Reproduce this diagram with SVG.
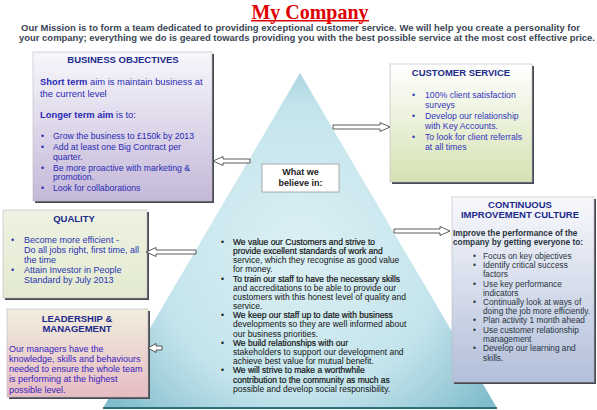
<svg xmlns="http://www.w3.org/2000/svg" width="597" height="410" viewBox="0 0 597 410">
<defs>
<radialGradient id="gPyr" gradientUnits="userSpaceOnUse" cx="300" cy="250" r="240">
<stop offset="0" stop-color="#dcf0f4"/><stop offset="0.6" stop-color="#c4e4ec"/><stop offset="1" stop-color="#82bdcc"/>
</radialGradient>
<linearGradient id="gBus" x1="0" y1="0" x2="0" y2="1"><stop offset="0" stop-color="#f8f7fc"/><stop offset="1" stop-color="#c4b8d8"/></linearGradient>
<linearGradient id="gCus" x1="0" y1="0" x2="0" y2="1"><stop offset="0" stop-color="#ffffff"/><stop offset="1" stop-color="#d5e2b3"/></linearGradient>
<linearGradient id="gQua" x1="0" y1="0" x2="0" y2="1"><stop offset="0" stop-color="#eef2e2"/><stop offset="1" stop-color="#e3ead0"/></linearGradient>
<linearGradient id="gLea" x1="0" y1="0" x2="0" y2="1"><stop offset="0" stop-color="#f1eedd"/><stop offset="1" stop-color="#e6bcc2"/></linearGradient>
<linearGradient id="gImp" x1="0" y1="0" x2="0" y2="1"><stop offset="0" stop-color="#f8f9fc"/><stop offset="1" stop-color="#b2bfda"/></linearGradient>
</defs>
<style>
text{font-family:"Liberation Sans",Arial,sans-serif;}
.title{font-family:"Liberation Serif","Times New Roman",serif;font-size:20px;font-weight:bold;fill:#e00000;}
.mis{font-size:9px;font-weight:bold;fill:#3a4654;}
.hd{font-size:9.5px;font-weight:bold;fill:#1c2a8c;text-anchor:middle;}
.bus{font-size:9.4px;fill:#2a2ab4;}
.bul{font-size:8.7px;fill:#2a2ab4;}
.cus{font-size:8.7px;fill:#3535bd;}
.qua{font-size:9px;fill:#2a35b0;}
.lea{font-size:9px;fill:#3a22c0;}
.imp{font-size:8.3px;fill:#2a3440;}
.pyr{font-size:8.5px;fill:#151515;}
.em{stroke:#151515;stroke-width:0.2;}
.b{font-weight:bold;}
.shadow{fill:#4a4a55;}
.box{stroke:#b8b8c0;stroke-width:0.6;}
.arrow{fill:#ffffff;stroke:#333333;stroke-width:0.8;}
</style>

<g id="title">
<text class="title" x="310" y="18.5" text-anchor="middle">My Company</text>
<line x1="251" y1="20.8" x2="369" y2="20.8" stroke="#e00000" stroke-width="1.5"/>
</g>

<g id="mission">
<text class="mis" x="21" y="30.5" textLength="559" lengthAdjust="spacingAndGlyphs">Our Mission is to form a team dedicated to providing exceptional customer service. We will help you create a personality for</text>
<text class="mis" x="19" y="40.5" textLength="576" lengthAdjust="spacingAndGlyphs">your company; everything we do is geared towards providing you with the best possible service at the most cost effective price.</text>
</g>

<g id="pyramid">
<polygon points="300,73 103,408 497,408" fill="url(#gPyr)"/>
<line x1="103" y1="408" x2="497" y2="408" stroke="#2f6f7e" stroke-width="2"/>
<g class="pyr">
<text x="221" y="245">•</text><text x="221" y="282">•</text><text x="221" y="318">•</text><text x="221" y="346">•</text><text x="221" y="373">•</text>
<text x="233" y="245" class="em">We value our Customers and strive to</text>
<text x="233" y="254" class="em">provide excellent standards of work and</text>
<text x="233" y="263">service, which they recognise as good value</text>
<text x="233" y="272">for money.</text>
<text x="233" y="282" class="em">To train our staff to have the necessary skills</text>
<text x="233" y="291">and accreditations to be able to provide our</text>
<text x="233" y="300">customers with this honest level of quality and</text>
<text x="233" y="309">service.</text>
<text x="233" y="318" class="em">We keep our staff up to date with business</text>
<text x="233" y="327">developments so they are well informed about</text>
<text x="233" y="337">our business priorities.</text>
<text x="233" y="346" class="em">We build relationships with our</text>
<text x="233" y="355">stakeholders to support our development and</text>
<text x="233" y="364">achieve best value for mutual benefit.</text>
<text x="233" y="373" class="em">We will strive to make a worthwhile</text>
<text x="233" y="383" class="em">contribution to the community as much as</text>
<text x="233" y="392">possible and develop social responsibility.</text>
</g>
</g>

<g id="believe">
<rect x="262" y="164" width="77" height="28" fill="#ffffff" stroke="#999999" stroke-width="0.8"/>
<text x="300.5" y="175" text-anchor="middle" font-size="9" font-weight="bold" fill="#222">What we</text>
<text x="300.5" y="186" text-anchor="middle" font-size="9" font-weight="bold" fill="#222">believe in:</text>
</g>

<g id="business">
<rect class="shadow" x="35" y="54" width="179" height="149"/>
<rect class="box" x="33" y="52" width="179" height="149" fill="url(#gBus)"/>
<text class="hd" x="123" y="63">BUSINESS OBJECTIVES</text>
<text class="bus" x="40" y="85"><tspan class="b">Short term</tspan> aim is maintain business at</text>
<text class="bus" x="40" y="97">the current level</text>
<text class="bus" x="40" y="118"><tspan class="b">Longer term aim</tspan> is to:</text>
<g class="bul">
<text x="41" y="139">•</text><text x="41" y="150">•</text><text x="41" y="171">•</text><text x="41" y="191">•</text>
<text x="53" y="139">Grow the business to £150k by 2013</text>
<text x="53" y="150">Add at least one Big Contract per</text>
<text x="53" y="160">quarter.</text>
<text x="53" y="171">Be more proactive with marketing &amp;</text>
<text x="53" y="180">promotion.</text>
<text x="53" y="191">Look for collaborations</text>
</g>
</g>

<g id="customer">
<rect class="shadow" x="392" y="66" width="142" height="118"/>
<rect class="box" x="390" y="64" width="142" height="118" fill="url(#gCus)"/>
<text class="hd" x="461" y="76">CUSTOMER SERVICE</text>
<g class="cus">
<text x="412" y="98">•</text><text x="412" y="119">•</text><text x="412" y="140">•</text>
<text x="425" y="98">100% client satisfaction</text>
<text x="425" y="108">surveys</text>
<text x="425" y="119">Develop our relationship</text>
<text x="425" y="129">with Key Accounts.</text>
<text x="425" y="140">To look for client referrals</text>
<text x="425" y="150">at all times</text>
</g>
</g>

<g id="quality">
<rect class="shadow" x="5" y="212" width="144" height="88"/>
<rect class="box" x="3" y="210" width="144" height="88" fill="url(#gQua)"/>
<text class="hd" x="74" y="222">QUALITY</text>
<g class="qua">
<text x="11" y="243">•</text><text x="11" y="273">•</text>
<text x="24" y="243">Become more efficient  -</text>
<text x="24" y="253">Do all jobs right, first time, all</text>
<text x="24" y="263">the time</text>
<text x="24" y="273">Attain Investor in People</text>
<text x="24" y="283">Standard by July 2013</text>
</g>
</g>

<g id="leadership">
<rect class="shadow" x="9" y="311" width="141" height="88"/>
<rect class="box" x="7" y="309" width="141" height="88" fill="url(#gLea)"/>
<text class="hd" x="77" y="322">LEADERSHIP &amp;</text>
<text class="hd" x="77" y="332">MANAGEMENT</text>
<g class="lea">
<text x="9" y="352">Our managers have the</text>
<text x="9" y="362">knowledge, skills and behaviours</text>
<text x="9" y="372">needed to ensure the whole team</text>
<text x="9" y="382">is performing at the highest</text>
<text x="9" y="393">possible level.</text>
</g>
</g>

<g id="improvement">
<rect class="shadow" x="454" y="199" width="142" height="185"/>
<rect class="box" x="452" y="197" width="142" height="185" fill="url(#gImp)"/>
<text class="hd" x="520" y="208">CONTINUOUS</text>
<text class="hd" x="520" y="218">IMPROVEMENT CULTURE</text>
<text class="imp b" x="453" y="236">Improve the performance of the</text>
<text class="imp b" x="453" y="245">company by getting everyone to:</text>
<g class="imp">
<text x="473" y="259">•</text><text x="473" y="268">•</text><text x="473" y="287">•</text><text x="473" y="305">•</text><text x="473" y="323">•</text><text x="473" y="333">•</text><text x="473" y="351">•</text>
<text x="483" y="259">Focus on key objectives</text>
<text x="483" y="268">Identify critical success</text>
<text x="483" y="277">factors</text>
<text x="483" y="287">Use key performance</text>
<text x="483" y="296">indicators</text>
<text x="483" y="305">Continually look at ways of</text>
<text x="483" y="314">doing the job more efficiently.</text>
<text x="483" y="323">Plan activity 1 month ahead</text>
<text x="483" y="333">Use customer relationship</text>
<text x="483" y="342">management</text>
<text x="483" y="351">Develop our learning and</text>
<text x="483" y="361">skills.</text>
</g>
</g>

<g id="connectors">
<path class="arrow" d="M213,161 L223,156.5 L223,159 L250,159 L250,163 L223,163 L223,165.5 Z"/>
<path class="arrow" d="M390,127 L380,122.5 L380,125 L333,125 L333,129 L380,129 L380,131.5 Z"/>
<path class="arrow" d="M146,252 L156,247.5 L156,250 L196,250 L196,254 L156,254 L156,256.5 Z"/>
<path class="arrow" d="M148,348 L156,343.5 L156,346 L162,346 L162,350 L156,350 L156,352.5 Z"/>
<path class="arrow" d="M450,231 L440,226.5 L440,229 L394,229 L394,233 L440,233 L440,235.5 Z"/>
</g>
</svg>
